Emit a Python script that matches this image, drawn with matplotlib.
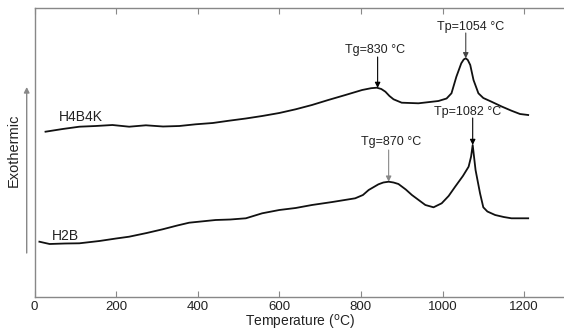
import numpy as np
import matplotlib
matplotlib.use("Agg")
import matplotlib.pyplot as plt

plt.rcParams['font.family'] = ['Liberation Sans', 'DejaVu Sans']

# DSC traces (signal in arbitrary units)
temp_h4b4k = [27, 69, 110, 150, 191, 232, 273, 315, 355, 395, 437, 477, 518, 558, 600,
              640, 680, 720, 762, 803, 825, 839, 850, 860, 870, 880, 900, 941, 990,
              1010, 1022, 1034, 1046, 1052, 1057, 1062, 1068, 1076, 1088, 1100, 1120,
              1145, 1169, 1190, 1210]
sig_h4b4k = [168.3, 171, 173.3, 174, 175, 173.3, 174.7, 173.5, 174, 175.7, 177, 179.3,
             181.5, 184, 187, 190.7, 195, 200, 205, 210, 211.8, 212.3, 211, 208.3, 204,
             200.7, 197.3, 196.7, 199, 201.5, 206.7, 223.3, 236.7, 240.5, 241.7, 240,
             235, 220, 206.7, 202, 198.3, 193.5, 189.3, 186, 185]

temp_h2b = [12, 37, 75, 110, 159, 200, 232, 275, 314, 350, 379, 444, 480, 518, 558, 600,
            640, 680, 730, 786, 805, 819, 843, 855, 868, 880, 892, 910, 925, 958, 978,
            998, 1015, 1031, 1050, 1064, 1070, 1074, 1081, 1092, 1100, 1110, 1129,
            1150, 1169, 1210]
sig_h2b = [58.3, 56, 56.5, 56.7, 59, 61.5, 63.3, 67, 70.7, 74.5, 77.3, 80, 80.5, 81.7,
           86.7, 90, 92, 95, 98, 101.7, 105, 110, 115.7, 117.5, 118.3, 117.5, 116,
           110.5, 105, 95, 92.7, 96.7, 104, 113.3, 124, 133.3, 143.3, 155, 130, 106.7,
           92.7, 88.5, 85, 83, 81.7, 81.7]

xticks = [0, 200, 400, 600, 800, 1000, 1200]

# annotations: label, curve, arrow x (temperature), arrow start height, text centre, arrow colour
notes = [
    ("Tg=830 °C", 'h4b4k', 841, 243, (834, 250), 'black'),
    ("Tp=1054 °C", 'h4b4k', 1057, 267, (1068, 273), '#444444'),
    ("Tg=870 °C", 'h2b', 868, 150, (873, 158), '#888888'),
    ("Tp=1082 °C", 'h2b', 1074, 182, (1061, 188), 'black'),
]

fig = plt.figure(figsize=(5.64, 3.32), dpi=100)
ax = fig.add_axes([34.5/564, 35/332, 1300*0.408/564, 289/332])

ax.plot(temp_h4b4k, sig_h4b4k, color='#111111', lw=1.3)
ax.plot(temp_h2b, sig_h2b, color='#111111', lw=1.3)

ax.text(60, 176, "H4B4K", fontsize=10, color='#222222', va='bottom')
ax.text(43, 57, "H2B", fontsize=10, color='#222222', va='bottom')

curves = {'h4b4k': (temp_h4b4k, sig_h4b4k), 'h2b': (temp_h2b, sig_h2b)}
for label, key, tx, start, tpos, col in notes:
    t, s = curves[key]
    tip = np.interp(tx, t, s)
    ax.annotate('', xy=(tx, tip), xytext=(tx, start),
                arrowprops=dict(arrowstyle='-|>', color=col, lw=0.8,
                                mutation_scale=8, shrinkA=0, shrinkB=0))
    ax.text(tpos[0], tpos[1], label, fontsize=9, ha='center', va='center',
            color='#222222')

ax.set_xlim(0, 1300)
ax.set_ylim(3, 292)
ax.set_xticks(xticks)
ax.set_yticks([])
ax.tick_params(axis='x', direction='in', length=4, top=True, labelsize=9.5,
               color='#888888', labelcolor='#222222', pad=3)
for side in ['left', 'bottom', 'top']:
    ax.spines[side].set_color('#888888')
    ax.spines[side].set_linewidth(1.0)
ax.spines['right'].set_visible(False)
ax.set_xlabel("Temperature ($^{\\rm o}$C)", fontsize=10, color='#222222', labelpad=0)

fig.text(14/564, 1 - 150/332, "Exothermic", rotation=90, fontsize=10.5,
         ha='center', va='center', color='#222222')
ax.annotate('', xy=(26.7/564, 1 - 87/332), xytext=(26.7/564, 1 - 253/332),
            xycoords='figure fraction', textcoords='figure fraction',
            arrowprops=dict(arrowstyle='-|>', color='#888888', lw=1.0,
                            mutation_scale=8, shrinkA=0, shrinkB=0))

fig.savefig("out.png", dpi=100)
